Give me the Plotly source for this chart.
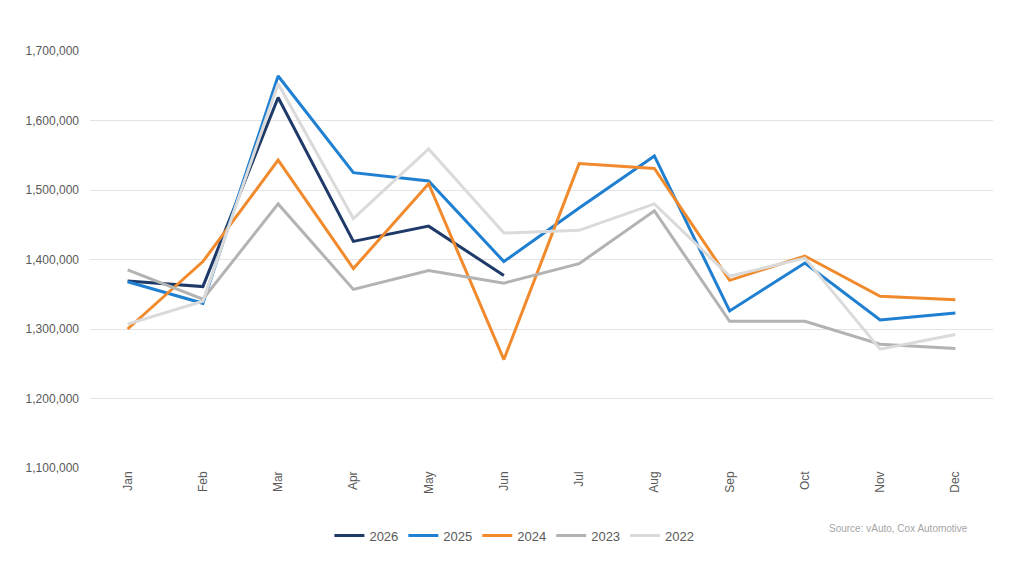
import plotly.graph_objects as go

months = ["Jan", "Feb", "Mar", "Apr", "May", "Jun", "Jul", "Aug", "Sep", "Oct", "Nov", "Dec"]

y2026 = [1369000, 1361000, 1633000, 1426000, 1448000, 1377000]
y2025 = [1368000, 1337000, 1664000, 1525000, 1513000, 1397000, 1474000, 1549000, 1326000, 1395000, 1313000, 1323000]
y2024 = [1300000, 1397000, 1543000, 1387000, 1509000, 1256000, 1538000, 1531000, 1370000, 1405000, 1347000, 1342000]
y2023 = [1385000, 1343000, 1480000, 1357000, 1384000, 1366000, 1394000, 1470000, 1311000, 1311000, 1278000, 1272000]
y2022 = [1307000, 1340000, 1653000, 1459000, 1559000, 1438000, 1442000, 1480000, 1376000, 1402000, 1271000, 1292000]

series = [
    ("2026", months[:6], y2026, "#1f3a68"),
    ("2025", months, y2025, "#1f7fd1"),
    ("2024", months, y2024, "#f08a2c"),
    ("2023", months, y2023, "#b3b3b3"),
    ("2022", months, y2022, "#dadada"),
]

fig = go.Figure()
for name, xs, ys, color in series:
    fig.add_trace(go.Scatter(x=xs, y=ys, mode="lines", name=name,
                             line=dict(color=color, width=3)))

font_family = "Liberation Sans, Arial, sans-serif"
fig.update_layout(
    width=1024, height=576,
    margin=dict(l=90, r=31, t=51, b=108),
    paper_bgcolor="white", plot_bgcolor="white",
    font=dict(family=font_family, color="#595959", size=12),
    xaxis=dict(type="category", categoryorder="array", categoryarray=months,
               range=[-0.5, 11.5],
               showgrid=False, showline=False, zeroline=False,
               tickangle=-90, ticks="", tickfont=dict(size=12, color="#595959")),
    yaxis=dict(range=[1100000, 1700000], dtick=100000, tickformat=",d",
               showgrid=True, gridcolor="#e4e4e4", gridwidth=1,
               zeroline=False, showline=False, ticks="",
               tickfont=dict(size=12, color="#595959"), ticksuffix="   "),
    legend=dict(orientation="h", x=0.47, xanchor="center", y=-0.162, yanchor="middle",
                font=dict(size=13, color="#595959"), itemwidth=30,
                tracegroupgap=0, traceorder="normal"),
    showlegend=True,
)
fig.add_annotation(text="Source: vAuto, Cox Automotive", xref="paper", yref="paper",
                   x=0.975, y=-0.145, xanchor="right", yanchor="middle",
                   showarrow=False, font=dict(size=10, color="#a6a6a6", family=font_family))

fig.write_html("out.html")
